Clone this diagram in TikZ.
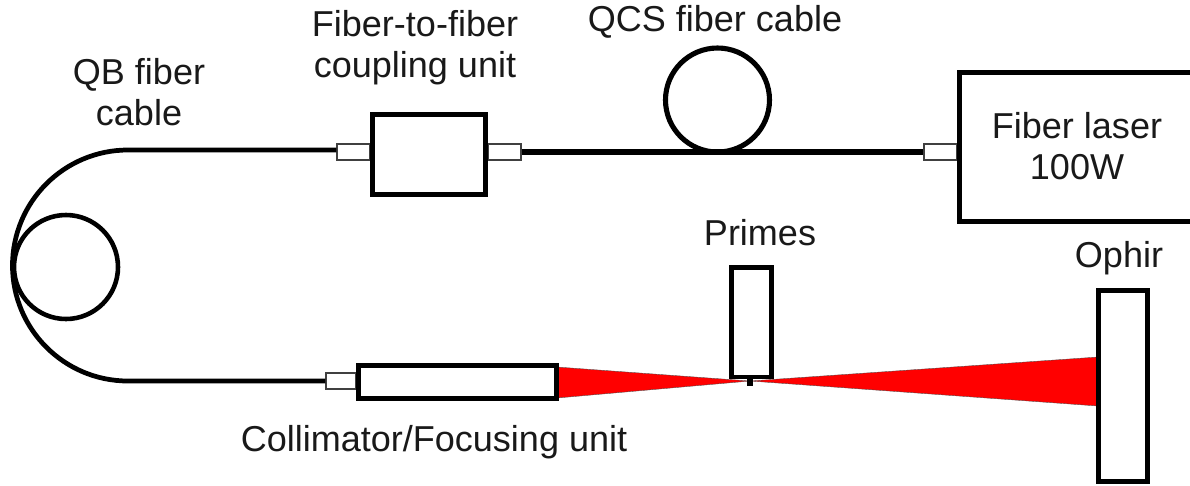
\documentclass[tikz,border=0pt]{standalone}
\usepackage{fontspec}
\setmainfont{Liberation Sans}
\tikzset{
  boxsize/.style 2 args={minimum width=#1*0.02cm,minimum height=#2*0.02cm},
  unitbox/.style={draw,line width=2.8pt,fill=white,anchor=north west,inner sep=0pt},
  ferrule/.style={draw=black!75,line width=0.7pt,fill=white,inner sep=0pt},
  coil/.style={circle,draw,inner sep=0pt,minimum size=104*0.02cm},
  beam/.style={fill=red,draw=black!70,line width=0.2pt},
  fiber/.style={line width=3.6pt},
  thinfiber/.style={line width=2.7pt},
  caption/.style={font=\fontsize{20.5}{23.5}\selectfont,align=center,text=black!90}
}
\begin{document}
\begin{tikzpicture}[x=0.02cm,y=-0.02cm]
            \useasboundingbox (0,0) rectangle (1190,485);
            % beams
            \filldraw[beam] (557,367)--(750,381)--(557,398)--cycle;
            \filldraw[beam] (750,381)--(1098,357)--(1098,406)--cycle;
            % coils
            \node[coil,line width=2.6pt] (qbcoil) at (66,267) {};
            \node[coil,line width=2.9pt] (qcscoil) at (717.5,100) {};
            % fiber ends
            \node[ferrule,boxsize={33}{16}] (ferruleA) at (353.5,152) {};
            \node[ferrule,boxsize={33}{16}] (ferruleB) at (504.5,152) {};
            \node[ferrule,boxsize={33}{16}] (ferruleC) at (940.5,152) {};
            \node[ferrule,boxsize={30}{16}] (ferruleD) at (341,381) {};
            \coordinate (qbstart) at ([yshift=2*0.02cm]ferruleA.west);
            % units
            \node[unitbox,boxsize={113}{80}] (coupler) at (370,112) {};
            \node[unitbox,boxsize={240}{149}] (laser) at (957,70) {};
            \node[unitbox,boxsize={198}{33}] (collimator) at (356,363) {};
            \node[unitbox,boxsize={40}{109.5}] (primes) at (729,265) {};
            \node[unitbox,boxsize={49}{191}] (ophir) at (1096,288) {};
            % fibers
            \draw[thinfiber] (qbstart) -- (128,150) arc (-90:-270:115.5) -- (ferruleD.west);
            \draw[fiber] (ferruleB.east) -- (ferruleC.west);
            \draw[line width=3pt] ([xshift=-1.5*0.02cm]primes.south) -- ++(0,7);
            % labels
            \node[caption] (qblabel) at (139,92) {QB fiber\\cable};
            \node[caption] (couplerlabel) at (415,47.5) {Fiber-to-fiber\\coupling unit};
            \node[caption] (qcslabel) at (715,22) {QCS fiber cable};
            \node[caption] (laserlabel) at (1077,146) {Fiber laser\\100W};
            \node[caption] (primeslabel) at (760,233) {Primes};
            \node[caption] (ophirlabel) at (1119,258) {Ophir};
            \node[caption] (collimatorlabel) at (434,442) {Collimator/Focusing unit};
        \end{tikzpicture}
\end{document}
